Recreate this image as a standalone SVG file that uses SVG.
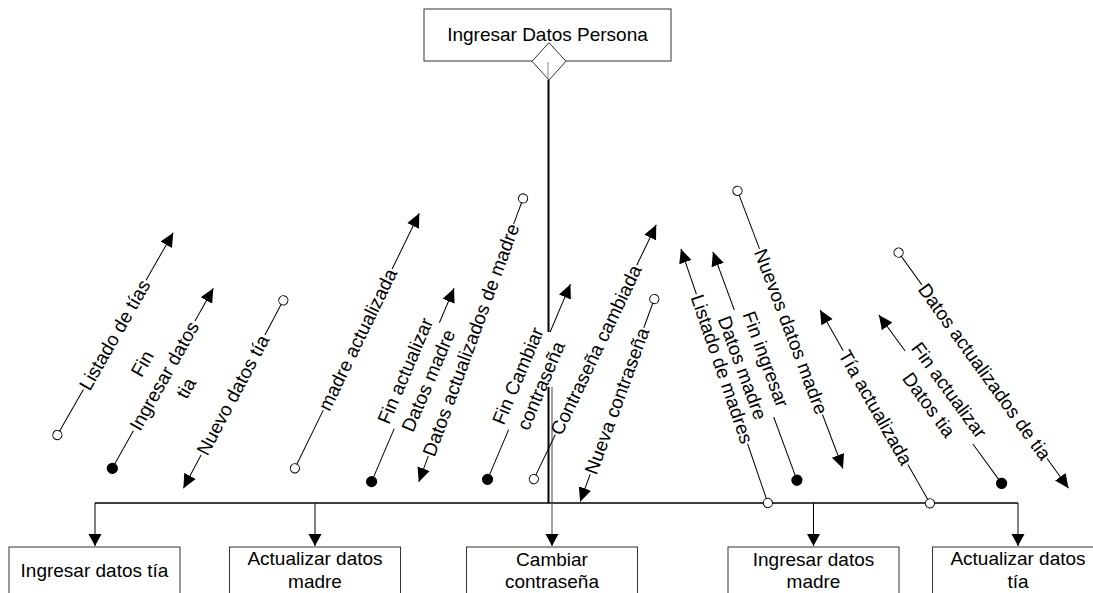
<svg xmlns="http://www.w3.org/2000/svg" width="1093" height="593" viewBox="0 0 1093 593">
<style>
.t{font-family:"Liberation Sans",Arial,sans-serif;font-size:19px;fill:#000}
.box{fill:#fff;stroke:#333;stroke-width:1}
.cl{stroke:#000;stroke-width:1;fill:none}
.bus{stroke:#000;stroke-width:1.3;fill:none}
</style>
<defs>
<marker id="arr" viewBox="-14 -8 16 16" markerWidth="16" markerHeight="16" refX="0" refY="0" orient="auto" markerUnits="userSpaceOnUse">
<path d="M0,0 L-14,-6.5 L-14,6.5 Z" fill="#000"/>
</marker>
<marker id="drop" viewBox="-14 -8 16 16" markerWidth="16" markerHeight="16" refX="0" refY="0" orient="auto" markerUnits="userSpaceOnUse">
<path d="M0,0 L-12,-6.5 L-12,6.5 Z" fill="#000"/>
</marker>
<marker id="oc" viewBox="-7 -7 14 14" markerWidth="14" markerHeight="14" refX="0" refY="0" markerUnits="userSpaceOnUse">
<circle r="4.6" fill="#fff" stroke="#000" stroke-width="1"/>
</marker>
<marker id="fc" viewBox="-7 -7 14 14" markerWidth="14" markerHeight="14" refX="0" refY="0" markerUnits="userSpaceOnUse">
<circle r="5.6" fill="#000"/>
</marker>
</defs>
<rect width="1093" height="593" fill="#fff"/>

<g id="node-top">
<rect class="box" x="424" y="9" width="247" height="52"/>
<text class="t" x="547.5" y="41" text-anchor="middle">Ingresar Datos Persona</text>
<polygon points="549,42.7 566,61.3 549,80 532,61.3" fill="#fff" stroke="#333" stroke-width="1"/>
</g>

<g id="node-ingresar-tia">
<rect class="box" x="9" y="547" width="171" height="60"/>
<text class="t" x="94.5" y="577" text-anchor="middle">Ingresar datos tía</text>
</g>
<g id="node-actualizar-madre">
<rect class="box" x="229.5" y="547" width="171" height="60"/>
<text class="t" x="315" y="565" text-anchor="middle">Actualizar datos</text>
<text class="t" x="315" y="588" text-anchor="middle">madre</text>
</g>
<g id="node-cambiar">
<rect class="box" x="466.5" y="547" width="171" height="60"/>
<text class="t" x="552" y="566" text-anchor="middle">Cambiar</text>
<text class="t" x="552" y="588" text-anchor="middle">contraseña</text>
</g>
<g id="node-ingresar-madre">
<rect class="box" x="728" y="547" width="171" height="60"/>
<text class="t" x="813.5" y="566" text-anchor="middle">Ingresar datos</text>
<text class="t" x="813.5" y="588" text-anchor="middle">madre</text>
</g>
<g id="node-actualizar-tia">
<rect class="box" x="932.5" y="547" width="171" height="60"/>
<text class="t" x="1018" y="565" text-anchor="middle">Actualizar datos</text>
<text class="t" x="1018" y="588" text-anchor="middle">tía</text>
</g>

<g id="connectors">
<line x1="548" y1="62" x2="548" y2="80" stroke="#888" stroke-width="1"/>
<path d="M548.5,80 V332 M548.5,387 V503" stroke="#000" stroke-width="2" fill="none"/>
<path class="bus" d="M95,503 H1018"/>
<path class="cl" d="M95,503 V546" marker-end="url(#drop)"/>
<path class="cl" d="M315,503 V546" marker-end="url(#drop)"/>
<path d="M552,387 V546" stroke="#444" stroke-width="1" fill="none" marker-end="url(#drop)"/>
<path class="cl" d="M813.5,503 V546" marker-end="url(#drop)"/>
<path class="cl" d="M1018,503 V546" marker-end="url(#drop)"/>

<g id="c-listado-tias" transform="translate(114.7,334.9) rotate(-60.2)">
<line class="cl" x1="-115.4" y1="0" x2="-63" y2="0" marker-start="url(#oc)"/>
<line class="cl" x1="63" y1="0" x2="117.8" y2="0" marker-end="url(#arr)"/>
<text class="t" x="0" y="6.5" text-anchor="middle">Listado de tías</text>
</g>
<g id="c-fin-ingresar-tia" transform="translate(164.2,375.9) rotate(-60.7)">
<line class="cl" x1="-106" y1="0" x2="-63" y2="0" marker-start="url(#fc)"/>
<line class="cl" x1="63" y1="0" x2="100.4" y2="0" marker-end="url(#arr)"/>
<text class="t" x="0" y="-18.5" text-anchor="middle">Fin</text>
<text class="t" x="0" y="6.5" text-anchor="middle">Ingresar datos</text>
<text class="t" x="0" y="31.5" text-anchor="middle">tia</text>
</g>
<g id="c-nuevo-tia" transform="translate(233,395) rotate(-62)">
<line class="cl" x1="-68" y1="0" x2="-105.6" y2="0" marker-end="url(#arr)"/>
<line class="cl" x1="68" y1="0" x2="107.2" y2="0" marker-end="url(#oc)"/>
<text class="t" x="0" y="6.5" text-anchor="middle">Nuevo datos tía</text>
</g>
<g id="c-madre-actualizada" transform="translate(357.7,339.6) rotate(-64)">
<line class="cl" x1="-143.2" y1="0" x2="-78.5" y2="0" marker-start="url(#oc)"/>
<line class="cl" x1="78.5" y1="0" x2="140.5" y2="0" marker-end="url(#arr)"/>
<text class="t" x="0" y="6.5" text-anchor="middle">madre actualizada</text>
</g>
<g id="c-fin-actualizar-madre" transform="translate(416.8,375.7) rotate(-66.9)">
<line class="cl" x1="-115.2" y1="0" x2="-57.5" y2="0" marker-start="url(#fc)"/>
<line class="cl" x1="57.5" y1="0" x2="95" y2="0" marker-end="url(#arr)"/>
<text class="t" x="0" y="-6" text-anchor="middle">Fin actualizar</text>
<text class="t" x="0" y="19" text-anchor="middle">Datos madre</text>
</g>
<g id="c-datos-act-madre" transform="translate(471,340) rotate(-69.8)">
<line class="cl" x1="-123.5" y1="0" x2="-151.2" y2="0" marker-end="url(#arr)"/>
<line class="cl" x1="123.5" y1="0" x2="150.8" y2="0" marker-end="url(#oc)"/>
<text class="t" x="0" y="6.5" text-anchor="middle">Datos actualizados de madre</text>
</g>
<g id="c-fin-cambiar" transform="translate(529.4,380.8) rotate(-67)">
<line class="cl" x1="-107.1" y1="0" x2="-53" y2="0" marker-start="url(#fc)"/>
<line class="cl" x1="53" y1="0" x2="105" y2="0" marker-end="url(#arr)"/>
<text class="t" x="0" y="-6" text-anchor="middle">Fin Cambiar</text>
<text class="t" x="0" y="19" text-anchor="middle">contraseña</text>
</g>
<g id="c-contrasena-cambiada" transform="translate(596,350) rotate(-64.3)">
<line class="cl" x1="-143.3" y1="0" x2="-94" y2="0" marker-start="url(#oc)"/>
<line class="cl" x1="94" y1="0" x2="138.9" y2="0" marker-end="url(#arr)"/>
<text class="t" x="0" y="6.5" text-anchor="middle">Contraseña cambiada</text>
</g>
<g id="c-nueva-contrasena" transform="translate(617,401) rotate(-69.9)">
<line class="cl" x1="-78" y1="0" x2="-107.2" y2="0" marker-end="url(#arr)"/>
<line class="cl" x1="78" y1="0" x2="108.6" y2="0" marker-end="url(#oc)"/>
<text class="t" x="0" y="6.5" text-anchor="middle">Nueva contraseña</text>
</g>
<g id="c-listado-madres" transform="translate(722,369) rotate(71.1)">
<line class="cl" x1="-79" y1="0" x2="-126.9" y2="0" marker-end="url(#arr)"/>
<line class="cl" x1="79" y1="0" x2="141.6" y2="0" marker-end="url(#oc)"/>
<text class="t" x="0" y="6.5" text-anchor="middle">Listado de madres</text>
</g>
<g id="c-fin-ingresar-madre" transform="translate(754,363.5) rotate(69.8)">
<line class="cl" x1="-57" y1="0" x2="-119" y2="0" marker-end="url(#arr)"/>
<line class="cl" x1="57" y1="0" x2="124.3" y2="0" marker-end="url(#fc)"/>
<text class="t" x="0" y="-6" text-anchor="middle">Fin ingresar</text>
<text class="t" x="0" y="19" text-anchor="middle">Datos madre</text>
</g>
<g id="c-nuevos-datos-madre" transform="translate(791,331.7) rotate(69.2)">
<line class="cl" x1="-150.7" y1="0" x2="-88.6" y2="0" marker-start="url(#oc)"/>
<line class="cl" x1="88.6" y1="0" x2="146.3" y2="0" marker-end="url(#arr)"/>
<text class="t" x="0" y="6.5" text-anchor="middle">Nuevos datos madre</text>
</g>
<g id="c-tia-actualizada" transform="translate(875.5,407.5) rotate(60.4)">
<line class="cl" x1="-65.5" y1="0" x2="-112.2" y2="0" marker-end="url(#arr)"/>
<line class="cl" x1="65.5" y1="0" x2="110.2" y2="0" marker-end="url(#oc)"/>
<text class="t" x="0" y="6.5" text-anchor="middle">Tía actualizada</text>
</g>
<g id="c-fin-actualizar-tia" transform="translate(939,397.5) rotate(53.9)">
<line class="cl" x1="-57.5" y1="0" x2="-102" y2="0" marker-end="url(#arr)"/>
<line class="cl" x1="57.5" y1="0" x2="106.3" y2="0" marker-end="url(#fc)"/>
<text class="t" x="0" y="-6" text-anchor="middle">Fin actualizar</text>
<text class="t" x="0" y="19" text-anchor="middle">Datos tia</text>
</g>
<g id="c-datos-act-tia" transform="translate(984.5,371.7) rotate(54.2)">
<line class="cl" x1="-146.9" y1="0" x2="-107" y2="0" marker-start="url(#oc)"/>
<line class="cl" x1="107" y1="0" x2="143.6" y2="0" marker-end="url(#arr)"/>
<text class="t" x="0" y="6.5" text-anchor="middle">Datos actualizados de tia</text>
</g>
</g>
</svg>
